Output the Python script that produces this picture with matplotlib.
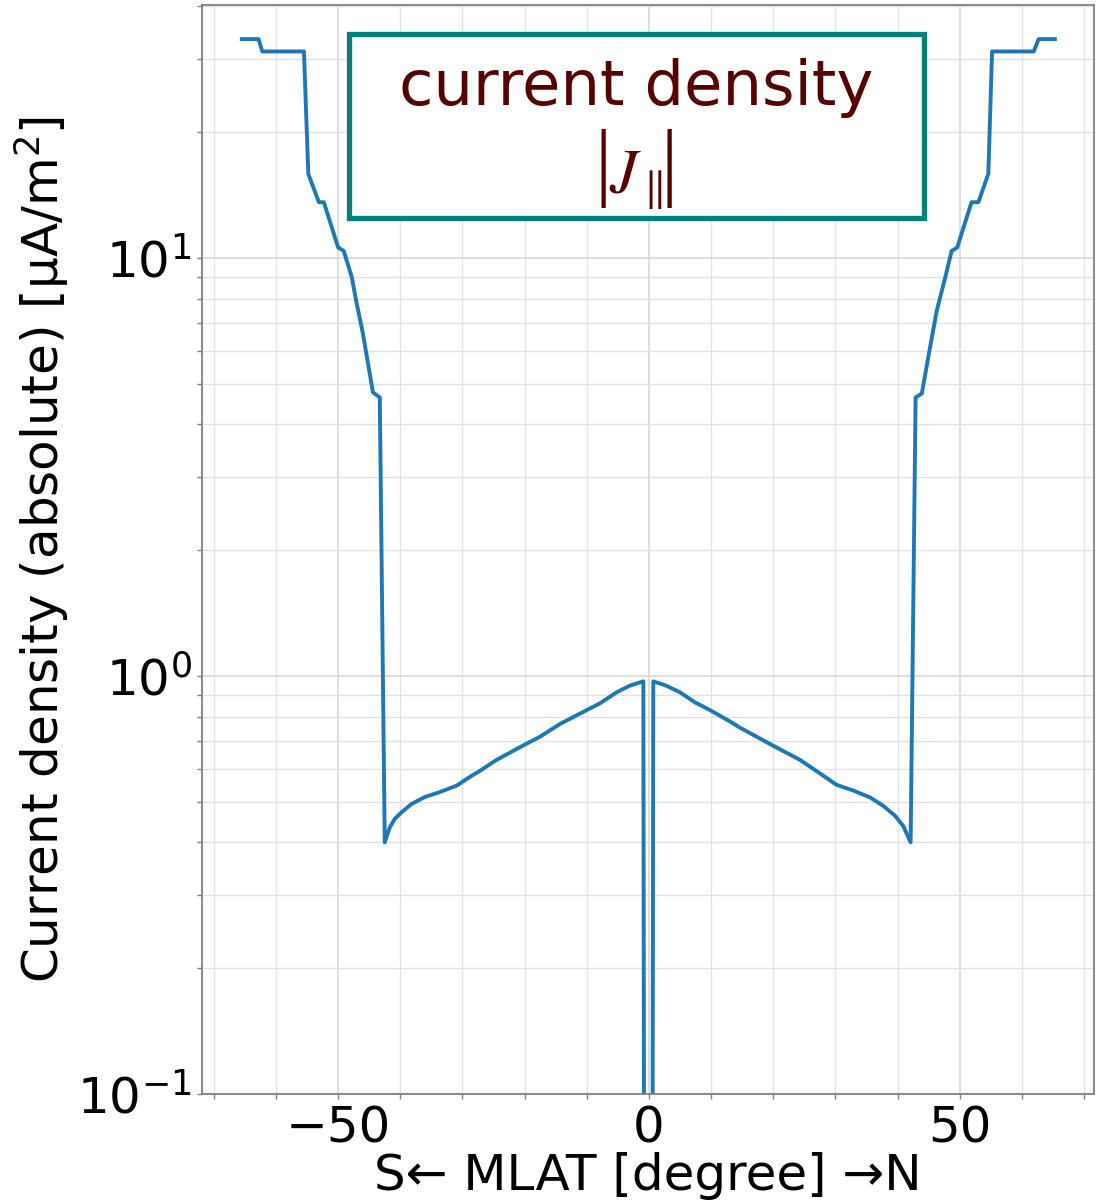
import matplotlib
matplotlib.use("Agg")
import matplotlib.pyplot as plt
from matplotlib.patches import Rectangle
from matplotlib.ticker import MultipleLocator, LogLocator, NullFormatter

# magnetic latitude [deg] and |J_parallel| [uA/m^2]
mlat = [-65.5, -62.8, -62.2, -55.5, -54.8, -53.1, -52.3, -50.0, -49.1, -47.8,
        -47.1, -46.0, -44.4, -43.3, -42.5, -41.7, -40.9, -39.8, -38.2, -36.0,
        -33.9, -32.3, -30.9, -29.1, -27.2, -24.5, -20.0, -17.5, -14.3, -10.0,
        -7.9, -5.2, -3.1, -0.9, -0.1, 0.7, 2.8, 5.0, 7.4, 10.0,
        13.0, 14.6, 17.3, 20.0, 24.3, 27.5, 30.2, 32.9, 35.6, 37.7,
        39.6, 40.9, 42.1, 42.9, 43.9, 45.3, 46.3, 47.6, 48.7, 49.6,
        51.9, 53.0, 54.6, 55.2, 61.9, 62.7, 65.3]
j_abs = [33.4, 33.4, 31.2, 31.2, 15.9, 13.6, 13.6, 10.6, 10.4, 9.0,
         7.9, 6.58, 4.77, 4.64, 0.40, 0.434, 0.455, 0.472, 0.494, 0.514,
         0.526, 0.537, 0.547, 0.570, 0.593, 0.630, 0.685, 0.716, 0.768, 0.829,
         0.860, 0.914, 0.948, 0.971, 1e-8, 0.971, 0.948, 0.914, 0.865, 0.826,
         0.779, 0.753, 0.716, 0.681, 0.630, 0.585, 0.549, 0.532, 0.512, 0.489,
         0.463, 0.438, 0.40, 4.64, 4.74, 6.2, 7.48, 8.9, 10.4, 10.6,
         13.6, 13.6, 15.9, 31.2, 31.2, 33.4, 33.4]

title_line1 = "current density"
title_symbol = r"$J_{\parallel}$"
title_bar = "|"
xlabel = "S\u2190 MLAT [degree] \u2192N"
ylabel = "Current density (absolute) [\u03bcA/m$^2$]"

W, H = 1107, 1200
fig = plt.figure(figsize=(W/100, H/100), dpi=100)
ax = fig.add_axes([202/W, 1-1094/H, (1094-202)/W, (1094-5)/H])

ax.plot(mlat, j_abs, color="#1f77b4", lw=2.8)
ax.set_yscale("log")
ax.set_ylim(0.1, 40.3)
ax.set_xlim(-71.9, 71.6)

ax.xaxis.set_major_locator(MultipleLocator(50))
ax.xaxis.set_minor_locator(MultipleLocator(10))
ax.yaxis.set_major_locator(LogLocator(base=10))
ax.yaxis.set_minor_locator(LogLocator(base=10, subs=range(2, 10)))
ax.yaxis.set_minor_formatter(NullFormatter())

ax.grid(which="major", color="#d4d4d4", lw=1.1)
ax.grid(which="minor", color="#e2e2e2", lw=1.0)
ax.set_axisbelow(True)

for s in ax.spines.values():
    s.set_color("#7f7f7f")
    s.set_linewidth(1.3)
ax.tick_params(which="both", direction="out", length=3.5, width=1, color="#7f7f7f",
               labelsize=36, pad=4)

ax.set_xlabel(xlabel, fontsize=36, labelpad=0)
ax.set_ylabel(ylabel, fontsize=36, labelpad=4)

# title box (pixel positions converted to figure fraction)
def fx(px):
    return px / W

def fy(py):
    return 1 - py / H

fig.patches.append(Rectangle((fx(349), fy(218)), fx(924) - fx(349), fy(34) - fy(218),
                             transform=fig.transFigure, facecolor="white",
                             edgecolor="#008078", lw=3.8, zorder=5))
tcol = "#560000"
fig.text(fx(636), fy(88), title_line1, ha="center", va="center", fontsize=45,
         color=tcol, zorder=6)
fig.text(fx(636), fy(193), title_symbol, ha="center", va="baseline", fontsize=45,
         color=tcol, zorder=6, math_fontfamily="stix")
for bx in (603, 669):
    fig.text(fx(bx), fy(189), title_bar, ha="center", va="baseline", fontsize=62,
             color=tcol, zorder=6, family="Liberation Serif")

fig.savefig("out.png", dpi=100)
